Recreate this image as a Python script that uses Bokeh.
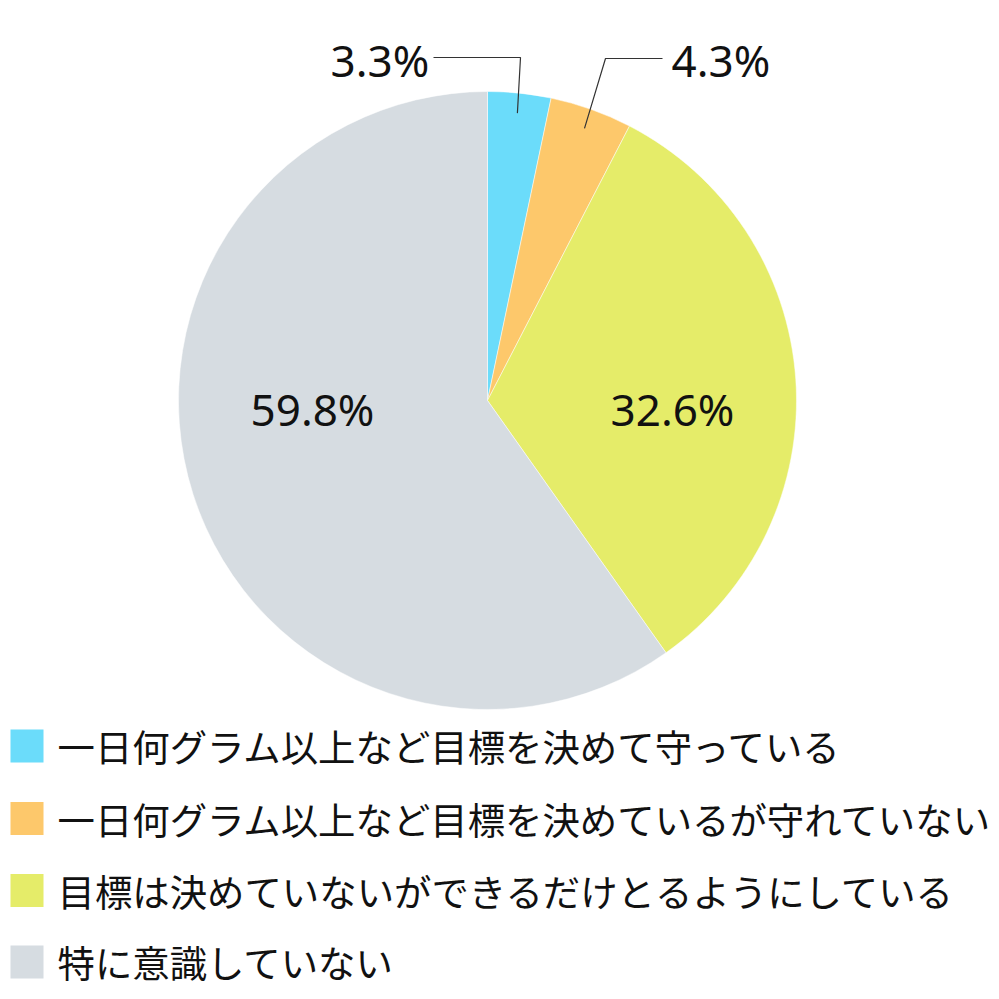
import math
from bokeh.plotting import figure
from bokeh.models import ColumnDataSource
from bokeh.core.properties import value
from bokeh.embed import file_html
from bokeh.resources import INLINE

# ---- data ----
categories = [
    "一日何グラム以上など目標を決めて守っている",
    "一日何グラム以上など目標を決めているが守れていない",
    "目標は決めていないができるだけとるようにしている",
    "特に意識していない",
]
shares = [3.3, 4.3, 32.6, 59.8]
labels = ["3.3%", "4.3%", "32.6%", "59.8%"]
colors = ["#6bdcfa", "#fdc86b", "#e5ec69", "#d6dce1"]

# ---- layout (screen px -> data) ----
W, H = 998, 998
OFF = 0
def sx(x):
    return x - OFF
def sy(y):
    return H - (y - OFF)

CX, CY, R = sx(487), sy(400), 309

p = figure(width=W, height=H, x_range=(0, W), y_range=(0, H),
           output_backend="svg", toolbar_location=None, min_border=0)
p.axis.visible = False
p.grid.visible = False
p.outline_line_color = None
p.background_fill_color = "white"

total = sum(shares)
starts, ends, mids = [], [], []
cum = 0.0
for s in shares:
    a0 = math.pi / 2 - 2 * math.pi * cum / total
    cum += s
    a1 = math.pi / 2 - 2 * math.pi * cum / total
    starts.append(a0)
    ends.append(a1)
    mids.append((a0 + a1) / 2)

src = ColumnDataSource(dict(start=starts, end=ends, color=colors))
p.wedge(x=CX, y=CY, radius=R, start_angle="start", end_angle="end",
        direction="clock", fill_color="color", line_color="white",
        line_width=0.5, source=src)

# inner labels (large slices)
inner_pos = {2: (672, 408), 3: (312, 408)}
for i, (px, py) in inner_pos.items():
    p.text(x=[sx(px)], y=[sy(py)], text=[labels[i]], text_font=value("Noto Sans"),
           text_font_size="44px", text_align="center", text_baseline="middle",
           text_color="#111111")

# outer labels with leader lines (small slices)
outer = {
    0: dict(elbow=(520, 57), end=(433, 57), lx=330),
    1: dict(elbow=(605, 58), end=(662, 58), lx=671),
}
for i, o in outer.items():
    ax = CX + 0.935 * R * math.cos(mids[i])
    ay = CY + 0.935 * R * math.sin(mids[i])
    p.line(x=[ax, sx(o["elbow"][0]), sx(o["end"][0])],
           y=[ay, sy(o["elbow"][1]), sy(o["end"][1])],
           line_color="#333333", line_width=1.2)
    p.text(x=[sx(o["lx"])], y=[sy(59)], text=[labels[i]], text_font=value("Noto Sans"),
           text_font_size="44px", text_align="left", text_baseline="middle",
           text_color="#111111")

# legend
leg_y = [745.5, 818, 890, 961.5]
for i, cat in enumerate(categories):
    p.rect(x=[sx(26.5)], y=[sy(leg_y[i])], width=33, height=33,
           fill_color=colors[i], line_color=None)
    p.text(x=[sx(57)], y=[sy(leg_y[i])], text=[cat],
           text_font=value("Noto Sans CJK JP"), text_font_size="37.4px",
           text_align="left", text_baseline="middle", text_color="#111111")

open("out.html", "w").write(file_html(p, INLINE))
